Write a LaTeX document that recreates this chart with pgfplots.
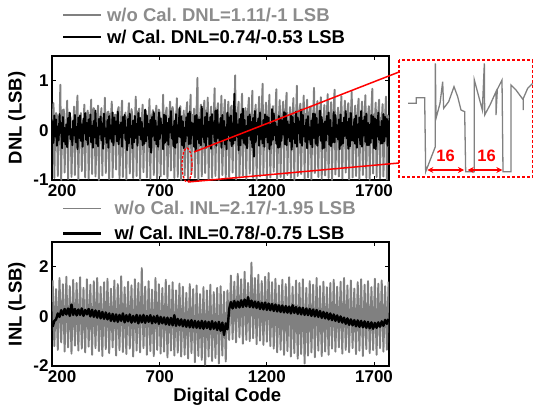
\documentclass[border=0pt]{standalone}
\usepackage{pgfplots}
\pgfplotsset{compat=1.18}
\usepackage{pgfplotstable}
\usepackage{fontspec}
\setmainfont{Liberation Sans}
\usetikzlibrary{arrows.meta}
\definecolor{gr}{RGB}{128,128,128}
\definecolor{grtext}{RGB}{140,140,140}
\definecolor{rd}{RGB}{255,0,0}

\pgfplotstableread[row sep=\\]{
x g b\\
200 0.22 0.18\\204 0.55 -0.25\\208 -0.96 0.30\\212 0.10 -0.12\\
216 0.35 0.22\\220 0.30 -0.31\\224 -0.92 0.08\\228 -0.22 -0.20\\
232 0.10 0.33\\236 0.92 -0.05\\240 -1.00 0.15\\244 0.28 -0.36\\
248 0.41 0.27\\252 0.42 -0.22\\256 -0.85 0.05\\260 -0.05 -0.28\\
264 0.18 0.12\\268 0.60 -0.34\\272 -0.98 0.25\\276 0.35 -0.08\\
280 0.30 0.36\\284 0.25 -0.18\\288 -0.94 0.02\\292 -0.18 -0.30\\
296 0.05 0.20\\300 0.48 -0.10\\304 -0.90 0.31\\308 0.15 -0.24\\
312 0.38 0.07\\316 0.70 -0.38\\320 -0.99 0.26\\324 0.02 -0.15\\
328 0.26 0.30\\332 0.35 -0.21\\336 -0.82 0.12\\340 -0.25 -0.33\\
344 0.12 0.24\\348 0.52 -0.06\\352 -0.95 0.35\\356 0.30 -0.19\\
360 0.33 0.15\\364 0.40 -0.29\\368 -0.97 0.22\\372 -0.10 -0.11\\
376 0.20 0.32\\380 0.62 -0.24\\384 -0.88 0.09\\388 0.22 -0.35\\
392 0.45 0.19\\396 0.28 -0.14\\400 -0.93 0.40\\404 -0.30 -0.27\\
408 0.15 0.05\\412 0.50 -0.32\\416 -1.00 0.23\\420 0.08 -0.08\\
424 0.28 0.28\\428 0.45 -0.20\\432 -0.91 0.14\\436 0.25 -0.37\\
440 0.08 0.34\\444 0.66 -0.12\\448 -0.86 0.03\\452 -0.15 -0.25\\
456 0.36 0.21\\460 0.38 -0.35\\464 -0.98 0.29\\468 0.33 -0.16\\
472 0.24 0.10\\476 0.58 -0.23\\480 -0.95 0.36\\484 -0.02 -0.30\\
488 0.19 0.26\\492 0.32 -0.07\\496 -0.79 0.18\\500 0.18 -0.22\\
504 0.40 0.38\\508 0.47 -0.28\\512 -0.97 0.11\\516 -0.28 -0.14\\
520 0.30 0.16\\524 0.60 -0.33\\528 -0.94 0.27\\532 0.12 -0.05\\
536 0.14 0.31\\540 0.36 -0.19\\544 -0.99 0.06\\548 0.27 -0.40\\
552 0.27 0.23\\556 0.55 -0.26\\560 -0.87 0.34\\564 -0.20 -0.13\\
568 0.43 0.09\\572 0.30 -0.36\\576 -0.96 0.20\\580 0.05 -0.24\\
584 0.11 0.29\\588 0.68 -0.15\\592 -0.92 0.13\\596 0.38 -0.31\\
600 0.32 0.35\\604 0.44 -0.09\\608 -1.00 0.25\\612 -0.12 -0.18\\
616 0.21 0.17\\620 0.52 -0.30\\624 -0.84 0.04\\628 0.20 -0.27\\
632 0.37 0.42\\636 0.39 -0.22\\640 -0.95 0.30\\644 -0.26 -0.10\\
648 0.16 0.13\\652 0.63 -0.34\\656 -0.98 0.21\\660 0.30 -0.45\\
664 0.29 0.27\\668 0.41 -0.11\\672 -0.90 0.37\\676 0.00 -0.20\\
680 0.25 0.20\\684 0.50 -0.28\\688 -0.97 0.08\\692 -0.17 -0.33\\
696 0.42 0.36\\700 0.35 -0.17\\704 -0.93 0.24\\708 0.24 -0.06\\
712 0.13 0.11\\716 0.72 -0.38\\720 -0.89 0.32\\724 0.10 -0.25\\
728 0.34 0.30\\732 0.46 -0.21\\736 -0.99 0.15\\740 -0.32 -0.29\\
744 0.20 0.24\\748 0.58 -0.04\\752 -0.81 0.39\\756 0.35 -0.16\\
760 0.47 0.07\\764 0.33 -0.32\\768 -0.96 0.19\\772 -0.08 -0.35\\
776 0.18 0.33\\780 0.65 -0.25\\784 -0.94 0.10\\788 0.16 -0.12\\
792 0.31 0.45\\796 0.49 -0.14\\800 -1.00 0.28\\804 0.29 -0.30\\
808 0.09 0.18\\812 0.40 -0.36\\816 -0.91 0.05\\820 -0.22 -0.22\\
824 0.39 0.26\\828 0.57 -0.10\\832 -0.97 0.34\\836 0.06 -0.28\\
840 0.28 0.38\\844 0.72 -0.27\\848 -0.88 0.16\\852 0.31 -0.09\\
856 0.17 0.14\\860 0.44 -0.33\\864 -0.95 0.29\\868 -0.14 -0.41\\
872 0.44 0.31\\876 1.06 -0.18\\880 -0.99 0.22\\884 0.21 -0.26\\
888 0.23 0.22\\892 0.52 -0.30\\896 -0.93 0.48\\900 -0.27 -0.13\\
904 0.35 0.09\\908 0.60 -0.24\\912 -0.86 0.27\\916 0.40 -0.35\\
920 0.12 0.35\\924 0.66 -0.12\\928 -0.98 0.17\\932 0.04 -0.29\\
936 0.30 0.27\\940 0.48 -0.37\\944 -0.96 0.33\\948 -0.19 -0.07\\
952 0.26 0.16\\956 0.85 -0.22\\960 -0.92 0.40\\964 0.26 -0.31\\
968 0.41 0.41\\972 0.55 -0.15\\976 -1.00 0.12\\980 0.12 -0.24\\
984 0.19 0.25\\988 0.70 -0.35\\992 -0.90 0.31\\996 -0.24 -0.18\\
1000 0.33 0.19\\1004 0.62 -0.28\\1008 -0.97 0.06\\1012 0.34 -0.38\\
1016 0.22 0.36\\1020 0.58 -0.09\\1024 -0.94 0.26\\1028 -0.06 -0.21\\
1032 0.46 0.30\\1036 0.50 -0.32\\1040 -0.85 0.14\\1044 0.18 -0.27\\
1048 0.15 0.74\\1052 1.11 -0.20\\1056 -0.99 0.35\\1060 0.28 -0.12\\
1064 0.37 0.12\\1068 0.58 -0.40\\1072 -0.95 0.23\\1076 -0.30 -0.30\\
1080 0.24 0.33\\1084 0.74 -0.16\\1088 -0.91 0.44\\1092 0.09 -0.25\\
1096 0.29 0.21\\1100 0.45 -0.29\\1104 -0.98 0.09\\1108 0.37 -0.36\\
1112 0.40 0.28\\1116 0.66 -0.11\\1120 -0.87 0.32\\1124 -0.16 -0.19\\
1128 0.18 0.17\\1132 0.80 -0.34\\1136 -0.96 0.25\\1140 0.23 -0.53\\
1144 0.32 0.39\\1148 0.52 -0.23\\1152 -1.00 0.15\\1156 0.02 -0.08\\
1160 0.27 0.24\\1164 0.68 -0.31\\1168 -0.93 0.36\\1172 -0.21 -0.17\\
1176 0.43 0.08\\1180 0.94 -0.26\\1184 -0.89 0.21\\1188 0.32 -0.33\\
1192 0.21 0.32\\1196 0.56 -0.13\\1200 -0.97 0.28\\1204 0.14 -0.24\\
1208 0.36 0.26\\1212 0.72 -0.38\\1216 -0.95 0.11\\1220 -0.11 -0.29\\
1224 0.14 0.43\\1228 0.49 -0.19\\1232 -0.83 0.34\\1236 0.27 -0.10\\
1240 0.38 0.15\\1244 0.83 -0.27\\1248 -0.99 0.07\\1252 -0.28 -0.35\\
1256 0.25 0.29\\1260 0.61 -0.34\\1264 -0.94 0.24\\1268 0.19 -0.21\\
1272 0.31 0.20\\1276 0.58 -0.08\\1280 -0.98 0.37\\1284 0.36 -0.28\\
1288 0.45 0.35\\1292 0.76 -0.30\\1296 -0.90 0.18\\1300 -0.04 -0.14\\
1304 0.20 0.11\\1308 0.47 -0.22\\1312 -0.96 0.30\\1316 0.11 -0.39\\
1320 0.34 0.27\\1324 0.65 -0.17\\1328 -1.00 0.13\\1332 0.29 -0.26\\
1336 0.16 0.38\\1340 0.90 -0.33\\1344 -0.92 0.26\\1348 -0.23 -0.06\\
1352 0.39 0.18\\1356 0.54 -0.25\\1360 -0.88 0.42\\1364 0.07 -0.31\\
1368 0.28 0.31\\1372 0.70 -0.12\\1376 -0.97 0.09\\1380 0.33 -0.23\\
1384 0.23 0.22\\1388 0.62 -0.36\\1392 -0.95 0.29\\1396 -0.18 -0.18\\
1400 0.42 0.06\\1404 0.48 -0.28\\1408 -0.99 0.20\\1412 0.24 -0.34\\
1416 0.19 0.34\\1420 0.86 -0.15\\1424 -0.86 0.33\\1428 -0.09 -0.27\\
1432 0.35 0.25\\1436 0.59 -0.31\\1440 -0.94 0.12\\1444 0.38 -0.09\\
1448 0.30 0.40\\1452 0.67 -0.21\\1456 -0.98 0.27\\1460 0.15 -0.37\\
1464 0.13 0.14\\1468 0.51 -0.35\\1472 -0.91 0.18\\1476 -0.26 -0.20\\
1480 0.37 0.29\\1484 0.73 -0.07\\1488 -0.96 0.36\\1492 0.20 -0.29\\
1496 0.26 0.21\\1500 0.57 -0.32\\1504 -1.00 0.05\\1508 0.03 -0.24\\
1512 0.44 0.37\\1516 0.82 -0.24\\1520 -0.89 0.31\\1524 -0.20 -0.13\\
1528 0.21 0.10\\1532 0.46 -0.18\\1536 -0.93 0.22\\1540 0.30 -0.38\\
1544 0.33 0.32\\1548 0.69 -0.29\\1552 -0.97 0.15\\1556 0.13 -0.26\\
1560 0.17 0.26\\1564 0.60 -0.11\\1568 -0.85 0.39\\1572 -0.15 -0.16\\
1576 0.40 0.17\\1580 0.55 -0.37\\1584 -0.99 0.24\\1588 0.35 -0.32\\
1592 0.29 0.35\\1596 0.78 -0.20\\1600 -0.95 0.08\\1604 -0.07 -0.21\\
1608 0.24 0.23\\1612 0.50 -0.27\\1616 -0.92 0.30\\1620 0.22 -0.35\\
1624 0.38 0.12\\1628 0.64 -0.14\\1632 -0.98 0.26\\1636 0.26 -0.28\\
1640 0.15 0.39\\1644 0.58 -0.33\\1648 -0.90 0.19\\1652 -0.29 -0.10\\
1656 0.32 0.28\\1660 0.71 -0.23\\1664 -0.96 0.34\\1668 0.17 -0.30\\
1672 0.27 0.15\\1676 0.49 -0.30\\1680 -1.00 0.11\\1684 0.08 -0.25\\
1688 0.41 0.31\\1692 0.84 -0.16\\1696 -0.87 0.28\\1700 0.32 -0.36\\
1704 0.22 0.24\\1708 0.56 -0.38\\1712 -0.94 0.21\\1716 -0.12 -0.12\\
1720 0.36 0.36\\1724 0.62 -0.19\\1728 -0.97 0.07\\1732 0.25 -0.27\\
1736 0.18 0.19\\1740 0.53 -0.26\\1744 -0.93 0.33\\1748 -0.02 -0.22\\
1752 0.30 0.27\\1756 0.68 -0.12\\1760 -0.99 0.23\\1764 0.30 -0.31\\
1768 0.25 0.20\\
}\dnl

\pgfplotstableread[row sep=\\]{
x g b\\
200 1.45 -0.42\\208 -1.20 -0.18\\216 1.10 -0.12\\224 -1.35 0.12\\
232 1.55 -0.02\\240 -1.05 0.25\\248 1.30 0.05\\256 -1.42 0.30\\
264 1.60 0.08\\272 -1.25 0.32\\280 1.22 0.02\\288 -1.50 0.48\\
296 1.48 0.06\\304 -1.18 0.30\\312 1.35 0.04\\320 -1.38 0.28\\
328 1.58 0.06\\336 -1.30 0.32\\344 1.15 0.02\\352 -1.45 0.26\\
360 1.50 0.08\\368 -1.22 0.30\\376 1.28 0.00\\384 -1.55 0.27\\
392 1.42 -0.02\\400 -1.28 0.24\\408 1.55 -0.05\\416 -1.40 0.22\\
424 1.20 -0.08\\432 -1.60 0.18\\440 1.38 -0.10\\448 -1.32 0.16\\
456 1.52 -0.12\\464 -1.48 0.12\\472 1.12 -0.18\\480 -1.25 0.10\\
488 1.45 -0.20\\496 -1.58 0.08\\504 1.30 -0.22\\512 -1.36 0.06\\
520 1.62 -0.18\\528 -1.44 0.12\\536 1.18 -0.24\\544 -1.52 0.05\\
552 1.40 -0.20\\560 -1.30 0.08\\568 1.25 -0.25\\576 -1.62 0.02\\
584 1.50 -0.22\\592 -1.38 0.06\\600 1.35 -0.28\\608 -1.45 0.04\\
616 1.95 -0.24\\624 -1.28 0.06\\632 1.20 -0.26\\640 -1.55 0.02\\
648 1.42 -0.22\\656 -1.40 0.05\\664 1.08 -0.28\\672 -1.60 0.00\\
680 1.55 -0.25\\688 -1.35 0.03\\696 1.30 -0.30\\704 -1.50 -0.02\\
712 1.15 -0.28\\720 -1.42 -0.04\\728 1.48 -0.32\\736 -1.65 -0.05\\
744 1.25 -0.34\\752 -1.38 -0.06\\760 1.38 -0.36\\768 -1.58 0.05\\
776 1.05 -0.38\\784 -1.46 -0.10\\792 1.32 -0.36\\800 -1.62 -0.12\\
808 1.20 -0.40\\816 -1.55 -0.14\\824 0.95 -0.42\\832 -1.70 -0.16\\
840 1.30 -0.44\\848 -1.48 -0.15\\856 1.10 -0.45\\864 -1.85 -0.18\\
872 1.25 -0.46\\880 -1.60 -0.20\\888 0.90 -0.48\\896 -1.75 -0.18\\
904 1.18 -0.50\\912 -1.95 -0.20\\920 1.05 -0.47\\928 -1.62 -0.22\\
936 1.28 -0.52\\944 -1.80 -0.19\\952 0.98 -0.50\\960 -1.68 -0.24\\
968 1.15 -0.55\\976 -1.90 -0.22\\984 1.22 -0.58\\992 -1.58 -0.25\\
1000 1.00 -0.75\\1008 -1.82 -0.28\\1016 1.05 -0.52\\1024 -0.95 0.30\\
1032 1.65 0.58\\1040 -0.92 0.32\\1048 1.40 0.62\\1056 -1.05 0.35\\
1064 1.72 0.60\\1072 -0.85 0.36\\1080 1.50 0.65\\1088 -1.10 0.38\\
1096 1.80 0.68\\1104 -0.95 0.40\\1112 1.35 0.78\\1120 -1.00 0.38\\
1128 2.17 0.64\\1136 -0.88 0.36\\1144 1.55 0.60\\1152 -1.12 0.34\\
1160 1.68 0.58\\1168 -0.98 0.30\\1176 1.42 0.55\\1184 -1.15 0.28\\
1192 1.60 0.56\\1200 -1.02 0.26\\1208 1.75 0.52\\1216 -1.20 0.25\\
1224 1.38 0.50\\1232 -1.30 0.22\\1240 1.52 0.48\\1248 -1.45 0.20\\
1256 1.25 0.45\\1264 -1.35 0.18\\1272 1.48 0.44\\1280 -1.55 0.16\\
1288 1.30 0.42\\1296 -1.40 0.15\\1304 1.58 0.40\\1312 -1.62 0.12\\
1320 1.20 0.45\\1328 -1.48 0.14\\1336 1.45 0.38\\1344 -1.70 0.10\\
1352 1.35 0.36\\1360 -1.52 0.08\\1368 1.50 0.35\\1376 -1.90 0.06\\
1384 1.15 0.32\\1392 -1.58 0.05\\1400 1.42 0.30\\1408 -1.45 0.02\\
1416 1.28 0.28\\1424 -1.65 0.00\\1432 1.55 0.26\\1440 -1.38 -0.02\\
1448 1.22 0.22\\1456 -1.60 -0.06\\1464 1.40 0.18\\1472 -1.42 -0.08\\
1480 1.18 0.15\\1488 -1.55 -0.12\\1496 1.35 0.12\\1504 -1.30 -0.15\\
1512 1.48 0.08\\1520 -1.42 -0.18\\1528 1.20 0.04\\1536 -1.25 -0.22\\
1544 1.40 0.00\\1552 -1.50 -0.25\\1560 1.55 -0.05\\1568 -1.35 -0.30\\
1576 1.25 -0.08\\1584 -1.45 -0.34\\1592 1.45 -0.12\\1600 -1.28 -0.36\\
1608 1.12 -0.15\\1616 -1.52 -0.40\\1624 1.38 -0.16\\1632 -1.38 -0.42\\
1640 1.50 -0.18\\1648 -1.60 -0.44\\1656 1.28 -0.20\\1664 -1.32 -0.46\\
1672 1.42 -0.22\\1680 -1.48 -0.48\\1688 1.18 -0.24\\1696 -1.36 -0.50\\
1704 1.52 -0.26\\1712 -1.55 -0.46\\1720 1.32 -0.24\\1728 -1.28 -0.42\\
1736 1.45 -0.20\\1744 -1.42 -0.38\\1752 1.22 -0.14\\1760 -1.35 -0.30\\
1768 1.40 -0.10\\
}\inl

\pgfplotstableread[row sep=\\]{
x y\\
54 -160\\79 -160\\79 -143\\104 -143\\107 -365\\136 -290\\136 -40\\138 -205\\
150 -160\\158 -95\\161 -175\\176 -155\\192 -110\\203 -140\\213 -180\\224 -185\\
227 -365\\253 -365\\253 -90\\277 -180\\283 -40\\284 -195\\300 -165\\318 -125\\
318 -195\\322 -118\\336 -90\\339 -365\\363 -365\\363 -105\\378 -120\\400 -150\\
400 -180\\400 -145\\413 -115\\428 -100\\
}\inset

\pgfplotsset{
  base/.style={
    scale only axis, width=337pt, height=124pt,
    xmin=197, xmax=1770, xtick={200,700,1200,1700},
    xticklabels={\hphantom{00}200,700,1200,1700},
    tick align=inside, major tick length=4pt,
    axis line style={line width=1.2pt},
    tick style={line width=1pt, black},
    tick label style={font=\bfseries\fontsize{17}{17}\selectfont},
    xticklabel style={inner sep=0pt, yshift=-4.5pt},
    label style={font=\bfseries\fontsize{18.5}{20}\selectfont},
    /pgf/number format/assume math mode=true,
    /pgf/number format/1000 sep={},
    ylabel style={at={(axis description cs:-0.104,0.5)}, anchor=center},
    legend cell align=left,
    legend image code/.code={\draw[##1, line join=round] (0pt,0pt) -- (38pt,0pt);},
  },
}

\begin{document}
\frenchspacing
\begin{tikzpicture}
\useasboundingbox (0,0) rectangle (534pt,-405pt);

\begin{axis}[base, at={(52pt,-56pt)}, anchor=north west,
  ymin=-1, ymax=1.5, ytick={-1,0,1}, ylabel={DNL (LSB)},
  legend style={draw=none, fill=none, inner sep=0pt,
    at={(axis description cs:0,1)}, anchor=south west, xshift=10pt, yshift=11pt,
    font=\bfseries\fontsize{18.5}{20}\selectfont,
    nodes={inner sep=0pt}, column sep=5pt, row sep=7pt}]
\addplot[gr, line width=1.9pt, line join=round] table[x=x, y=g] {\dnl};
\addlegendentry{\textcolor{grtext}{w/o Cal. DNL=1.11/-1 LSB}}
\addplot[black, line width=1.9pt, line join=round] table[x=x, y=b] {\dnl};
\addlegendentry{w/ Cal. DNL=0.74/-0.53 LSB}
\end{axis}

\begin{axis}[base, at={(52pt,-242pt)}, anchor=north west,
  ymin=-2, ymax=3, ytick={-2,0,2}, ylabel={INL (LSB)},
  xlabel={Digital Code},
  xlabel style={at={(axis description cs:0.52,-0.177)}, anchor=north, inner sep=0pt},
  legend style={draw=none, fill=none, inner sep=0pt,
    at={(axis description cs:0,1)}, anchor=south west, xshift=10pt, yshift=1pt,
    font=\bfseries\fontsize{18.5}{20}\selectfont,
    nodes={inner sep=0pt}, column sep=12pt, row sep=10pt}]
\addplot[gr, line width=1.9pt, line join=round] table[x=x, y=g] {\inl};
\addlegendentry{\textcolor{grtext}{w/o Cal. INL=2.17/-1.95 LSB}}
\addplot[black, line width=2.4pt, line join=round] table[x=x, y=b] {\inl};
\addlegendentry{w/ Cal. INL=0.78/-0.75 LSB}
\end{axis}

\begin{axis}[scale only axis, width=144pt, height=140pt,
  at={(390pt,-50pt)}, anchor=north west,
  xmin=0, xmax=432, ymin=-420, ymax=0, hide axis, clip=false]
\addplot[gr, line width=1.3pt] table[x=x, y=y] {\inset};
\draw[rd, line width=1.6pt, {Stealth[length=6pt,width=6pt]}-{Stealth[length=6pt,width=6pt]}] (axis cs:112,-360) -- (axis cs:222,-360);
\draw[rd, line width=1.6pt, {Stealth[length=6pt,width=6pt]}-{Stealth[length=6pt,width=6pt]}] (axis cs:233,-360) -- (axis cs:337,-360);
\node[rd, font=\bfseries\fontsize{16.5}{17}\selectfont] at (axis cs:167,-318) {16};
\node[rd, font=\bfseries\fontsize{16.5}{17}\selectfont] at (axis cs:290,-318) {16};
\end{axis}

\draw[rd, line width=1.4pt, dash pattern=on 3pt off 2pt] (399pt,-60pt) rectangle (532.5pt,-177pt);
\draw[rd, line width=1.3pt, dash pattern=on 2.5pt off 1.5pt] (187pt,-165pt) ellipse (5pt and 17pt);
\draw[rd, line width=1.5pt] (194pt,-152pt) -- (399pt,-72pt);
\draw[rd, line width=1.5pt] (188pt,-182pt) -- (399pt,-163pt);
\end{tikzpicture}
\end{document}
